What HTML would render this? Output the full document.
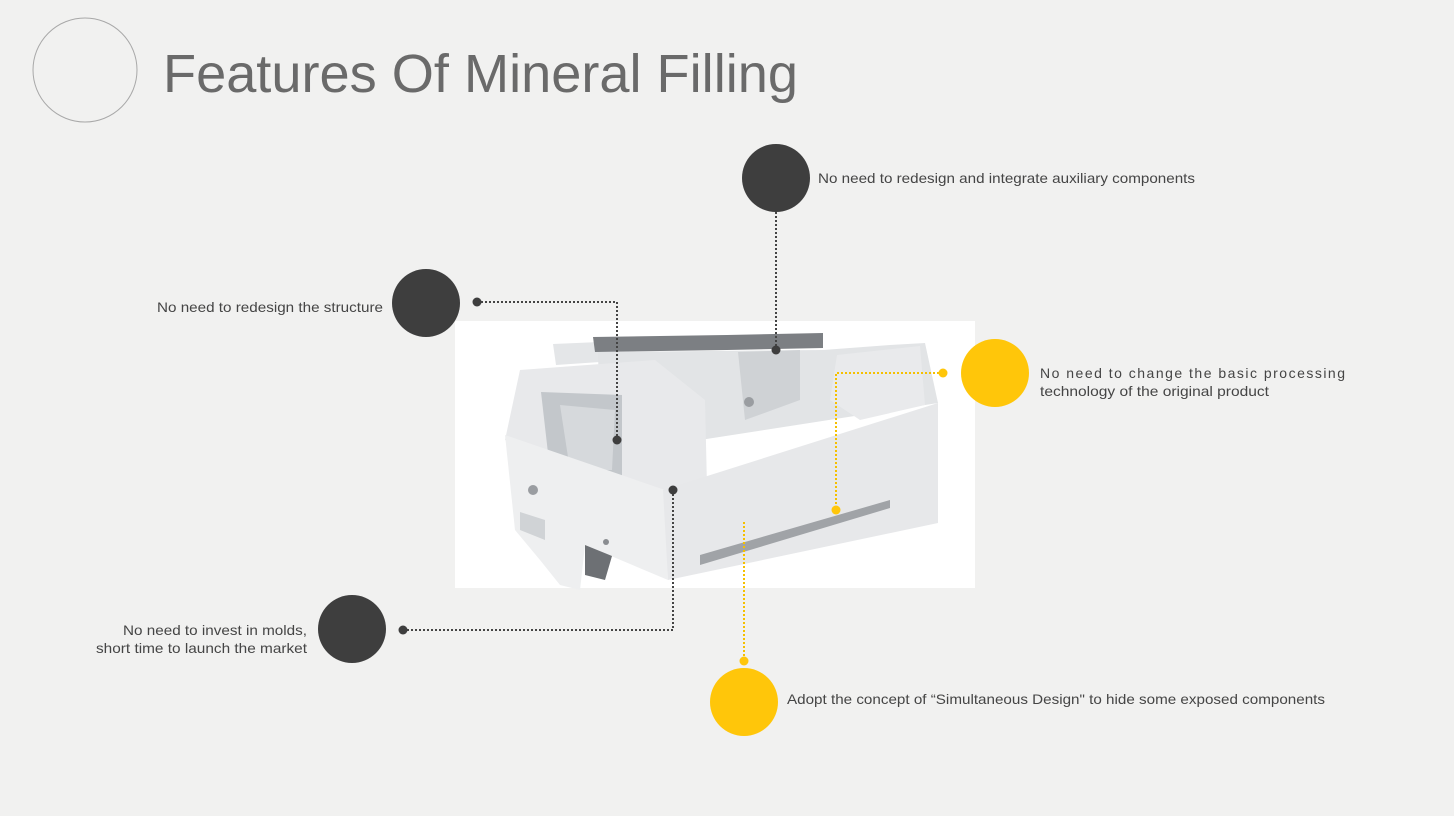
<!DOCTYPE html>
<html><head><meta charset="utf-8"><style>
html,body{margin:0;padding:0;background:#f2f2f1;}
svg{display:block}
text{font-family:"Liberation Sans",sans-serif;fill:#454545}
</style></head><body>
<svg width="1454" height="816" viewBox="0 0 1454 816" xmlns="http://www.w3.org/2000/svg">
<rect width="1454" height="816" fill="#f1f1f0"/>
<circle cx="85" cy="70" r="52" fill="none" stroke="#a8a8a8" stroke-width="1"/>
<text x="163" y="92" font-size="54" textLength="635" lengthAdjust="spacingAndGlyphs" style="fill:#6a6a6a">Features Of Mineral Filling</text>

<!-- machine image -->
<rect x="455" y="321" width="520" height="267" fill="#ffffff"/>
<g stroke="none">
<polygon points="553,344 600,342 600,362 556,365" fill="#e4e6e8"/>
<polygon points="598,352 823,350 890,345 925,343 938,403 700,440 600,430" fill="#e2e4e6"/>
<polygon points="593,337 727,335 727,350 595,352" fill="#7c7f83"/>
<polygon points="727,335 823,333 823,348 727,350" fill="#7c7f83"/>
<polygon points="738,352 800,350 800,400 745,420" fill="#cfd2d5"/>
<polygon points="837,355 920,346 925,405 860,420 830,400" fill="#e9eaec"/>
<polygon points="520,370 655,360 705,400 707,487 665,490 560,460 505,440" fill="#e8e9eb"/>
<polygon points="541,392 622,395 622,488 552,488" fill="#c3c7cb"/>
<polygon points="560,405 615,410 612,470 570,470" fill="#d6d9dc"/>
<polygon points="505,435 665,490 668,580 585,545 580,590 560,585 540,560 515,530" fill="#eeeff0"/>
<polygon points="663,490 938,403 938,523 668,580" fill="#e7e8ea"/>
<polygon points="700,555 890,500 890,508 700,565" fill="#a0a3a7"/>
<polygon points="520,512 545,520 545,540 520,530" fill="#d0d3d6"/>
<polygon points="585,545 612,556 605,580 585,575" fill="#6d7074"/>
<circle cx="533" cy="490" r="5" fill="#9a9da1"/>
<circle cx="606" cy="542" r="3" fill="#8a8d91"/>
<circle cx="749" cy="402" r="5" fill="#9a9da1"/>
</g>

<!-- connectors -->
<g fill="none" stroke-dasharray="2,2" stroke-width="2">
<path d="M776,212 V350" stroke="#444"/>
<path d="M477,302 H617 V440" stroke="#444"/>
<path d="M403,630 H673 V490" stroke="#444"/>
<path d="M943,373 H836 V510" stroke="#f5c000"/>
<path d="M744,522 V661" stroke="#f5c000"/>
</g>
<g fill="#3e3e3e">
<circle cx="776" cy="350" r="4.5"/><circle cx="477" cy="302" r="4.5"/><circle cx="617" cy="440" r="4.5"/>
<circle cx="403" cy="630" r="4.5"/><circle cx="673" cy="490" r="4.5"/>
<circle cx="776" cy="178" r="34"/><circle cx="426" cy="303" r="34"/><circle cx="352" cy="629" r="34"/>
</g>
<g fill="#ffc60a">
<circle cx="943" cy="373" r="4.5"/><circle cx="836" cy="510" r="4.5"/><circle cx="744" cy="661" r="4.5"/>
<circle cx="995" cy="373" r="34"/><circle cx="744" cy="702" r="34"/>
</g>

<g font-size="14">
<text x="818" y="183" textLength="377" lengthAdjust="spacingAndGlyphs">No need to redesign and integrate auxiliary components</text>
<text x="157" y="312" textLength="226" lengthAdjust="spacingAndGlyphs">No need to redesign the structure</text>
<text x="1040" y="378" textLength="305" lengthAdjust="spacing">No need to change the basic processing</text>
<text x="1040" y="396" textLength="229" lengthAdjust="spacingAndGlyphs">technology of the original product</text>
<text x="123" y="635" textLength="184" lengthAdjust="spacingAndGlyphs">No need to invest in molds,</text>
<text x="96" y="653" textLength="211" lengthAdjust="spacingAndGlyphs">short time to launch the market</text>
<text x="787" y="704" textLength="538" lengthAdjust="spacingAndGlyphs">Adopt the concept of “Simultaneous Design" to hide some exposed components</text>
</g>
</svg>
</body></html>
